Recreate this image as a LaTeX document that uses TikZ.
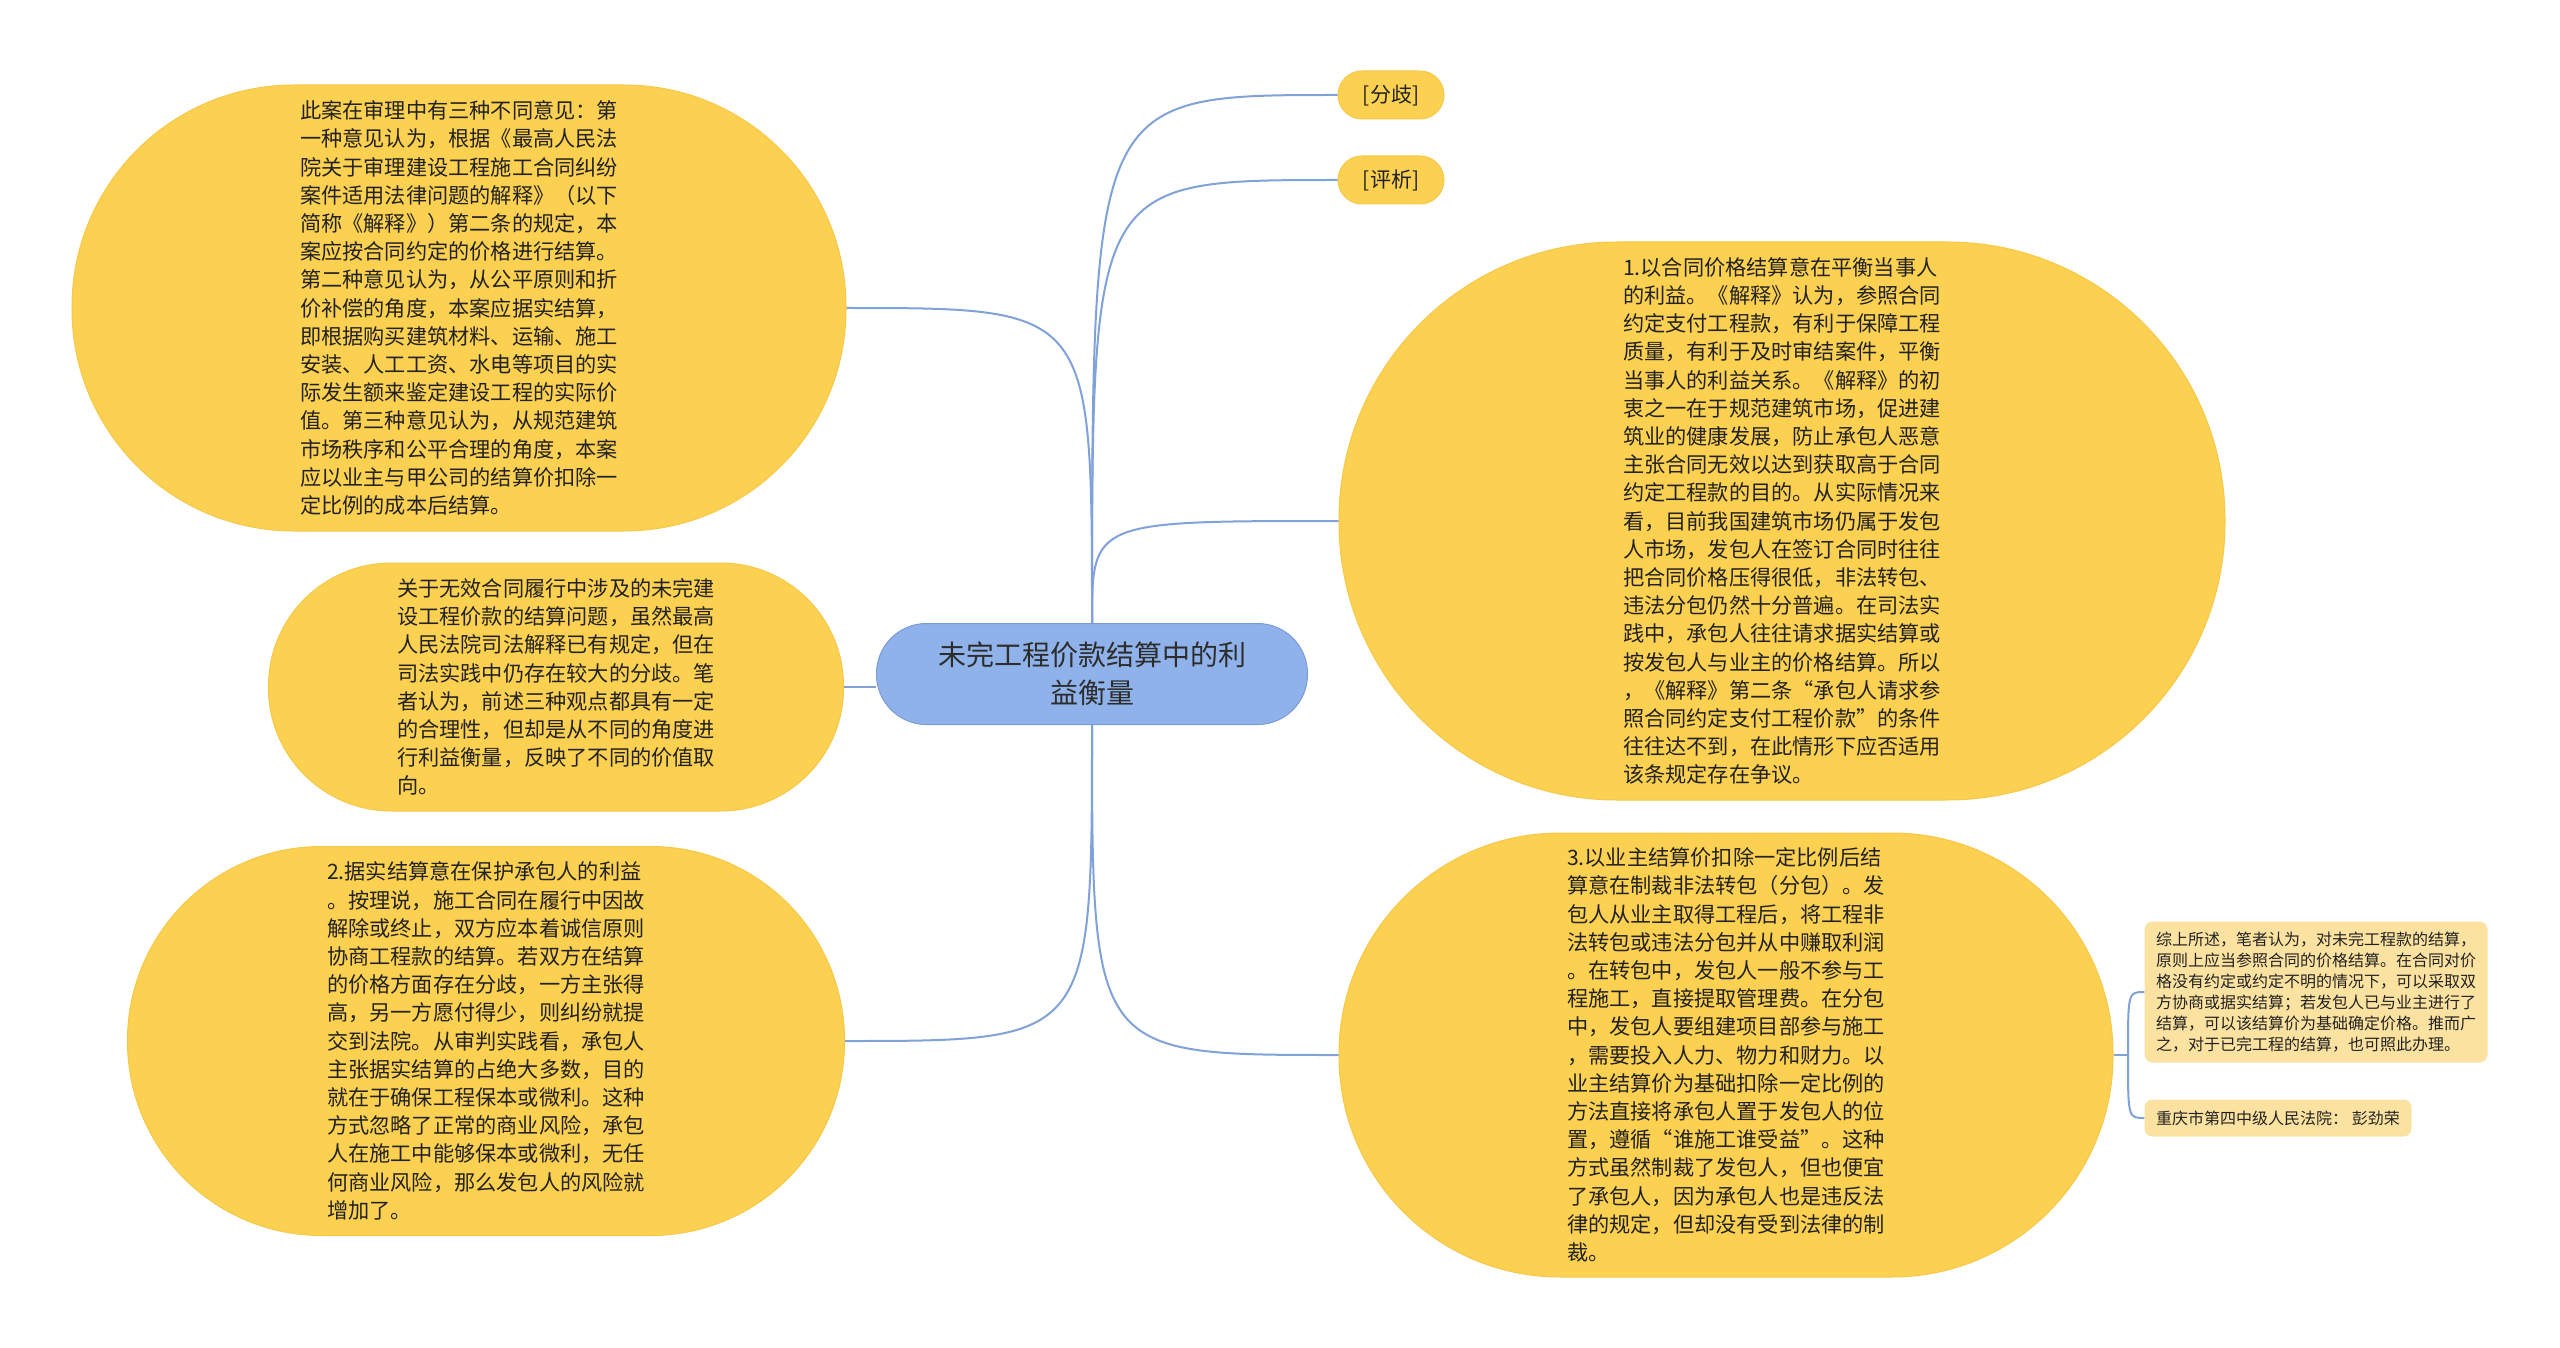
\documentclass[tikz,border=0pt]{standalone}
\usepackage{fontspec}
\newfontfamily\cjk{Noto Sans CJK SC}
\definecolor{ylw}{RGB}{252,208,80}
\definecolor{ybord}{RGB}{246,200,72}
\definecolor{pale}{RGB}{251,226,160}
\definecolor{ctrfill}{RGB}{143,178,234}
\definecolor{ctrbord}{RGB}{122,155,214}
\definecolor{link}{RGB}{128,162,216}
\definecolor{txt}{RGB}{34,34,34}
\tikzset{
  bigbox/.style={draw=ybord, fill=ylw, line width=1pt, inner sep=0pt, align=left, text=txt,
    font=\cjk\fontsize{21.2}{28.2}\selectfont},
  tagbox/.style={draw=ybord, fill=ylw, line width=1pt, inner sep=0pt, align=center, text=txt,
    font=\cjk\fontsize{21}{26}\selectfont, minimum width=106pt, minimum height=48pt, rounded corners=24pt},
  palebox/.style={fill=pale, inner sep=0pt, align=left, text=txt, rounded corners=8pt,
    font=\cjk\fontsize{16}{20.9}\selectfont},
  ctrbox/.style={draw=ctrbord, fill=ctrfill, line width=1pt, inner sep=0pt, align=center, text={rgb,255:red,45;green,45;blue,45},
    font=\cjk\fontsize{28}{38}\selectfont, minimum width=431pt, minimum height=101pt, rounded corners=50pt},
  conn/.style={draw=link, line width=2pt}
}
\begin{document}
\begin{tikzpicture}[x=1pt,y=-1pt]
\path[fill=white, use as bounding box] (0,0) rectangle (2560,1348);

% center
\node[ctrbox] (c) at (1092,674) {未完工程价款结算中的利\\益衡量};

% tags
\node[tagbox] (f1) at (1391,95) {[分歧]};
\node[tagbox] (f2) at (1391,180) {[评析]};

% top-left
\node[bigbox, minimum width=774pt, minimum height=446pt, rounded corners=222pt] (tl) at (459,308) {%
此案在审理中有三种不同意见：第\\
一种意见认为，根据《最高人民法\\
院关于审理建设工程施工合同纠纷\\
案件适用法律问题的解释》（以下\\
简称《解释》）第二条的规定，本\\
案应按合同约定的价格进行结算。\\
第二种意见认为，从公平原则和折\\
价补偿的角度，本案应据实结算，\\
即根据购买建筑材料、运输、施工\\
安装、人工工资、水电等项目的实\\
际发生额来鉴定建设工程的实际价\\
值。第三种意见认为，从规范建筑\\
市场秩序和公平合理的角度，本案\\
应以业主与甲公司的结算价扣除一\\
定比例的成本后结算。};

% middle-left
\node[bigbox, minimum width=575pt, minimum height=248pt, rounded corners=123pt] (ml) at (556,687) {%
关于无效合同履行中涉及的未完建\\
设工程价款的结算问题，虽然最高\\
人民法院司法解释已有规定，但在\\
司法实践中仍存在较大的分歧。笔\\
者认为，前述三种观点都具有一定\\
的合理性，但却是从不同的角度进\\
行利益衡量，反映了不同的价值取\\
向。};

% bottom-left
\node[bigbox, minimum width=717pt, minimum height=389pt, rounded corners=194pt] (bl) at (486,1041) {%
2.据实结算意在保护承包人的利益\\
。按理说，施工合同在履行中因故\\
解除或终止，双方应本着诚信原则\\
协商工程款的结算。若双方在结算\\
的价格方面存在分歧，一方主张得\\
高，另一方愿付得少，则纠纷就提\\
交到法院。从审判实践看，承包人\\
主张据实结算的占绝大多数，目的\\
就在于确保工程保本或微利。这种\\
方式忽略了正常的商业风险，承包\\
人在施工中能够保本或微利，无任\\
何商业风险，那么发包人的风险就\\
增加了。};

% right 1
\node[bigbox, minimum width=886pt, minimum height=558pt, rounded corners=278pt] (r1) at (1782,521) {%
1.以合同价格结算意在平衡当事人\\
的利益。《解释》认为，参照合同\\
约定支付工程款，有利于保障工程\\
质量，有利于及时审结案件，平衡\\
当事人的利益关系。《解释》的初\\
衷之一在于规范建筑市场，促进建\\
筑业的健康发展，防止承包人恶意\\
主张合同无效以达到获取高于合同\\
约定工程款的目的。从实际情况来\\
看，目前我国建筑市场仍属于发包\\
人市场，发包人在签订合同时往往\\
把合同价格压得很低，非法转包、\\
违法分包仍然十分普遍。在司法实\\
践中，承包人往往请求据实结算或\\
按发包人与业主的价格结算。所以\\
，《解释》第二条“承包人请求参\\
照合同约定支付工程价款”的条件\\
往往达不到，在此情形下应否适用\\
该条规定存在争议。};

% right 3
\node[bigbox, minimum width=774pt, minimum height=444pt, rounded corners=221pt] (r3) at (1726,1055) {%
3.以业主结算价扣除一定比例后结\\
算意在制裁非法转包（分包）。发\\
包人从业主取得工程后，将工程非\\
法转包或违法分包并从中赚取利润\\
。在转包中，发包人一般不参与工\\
程施工，直接提取管理费。在分包\\
中，发包人要组建项目部参与施工\\
，需要投入人力、物力和财力。以\\
业主结算价为基础扣除一定比例的\\
方法直接将承包人置于发包人的位\\
置，遵循“谁施工谁受益”。这种\\
方式虽然制裁了发包人，但也便宜\\
了承包人，因为承包人也是违反法\\
律的规定，但却没有受到法律的制\\
裁。};

% small boxes
\node[palebox, minimum width=343pt, minimum height=141pt] (s1) at (2316,992) {%
综上所述，笔者认为，对未完工程款的结算，\\
原则上应当参照合同的价格结算。在合同对价\\
格没有约定或约定不明的情况下，可以采取双\\
方协商或据实结算；若发包人已与业主进行了\\
结算，可以该结算价为基础确定价格。推而广\\
之，对于已完工程的结算，也可照此办理。};
\node[palebox, minimum width=267pt, minimum height=37pt] (s2) at (2278,1118) {重庆市第四中级人民法院：\ 彭劲荣};

% connectors
\draw[conn] (c.north) .. controls (c.north |- f1.west) .. (f1.west);
\draw[conn] (c.north) .. controls (c.north |- f2.west) .. (f2.west);
\draw[conn] (c.north) .. controls (c.north |- r1.west) .. (r1.west);
\draw[conn] (c.north) .. controls (c.north |- tl.east) .. (tl.east);
\draw[conn] (c.south) .. controls (c.south |- bl.east) .. (bl.east);
\draw[conn] (c.south) .. controls (c.south |- r3.west) .. (r3.west);
\draw[conn] (ml.east) -- (ml.east -| c.west);
\coordinate (j) at (2128,1055);
\draw[conn] (r3.east) -- (j);
\draw[conn] (j) .. controls (j |- s1.west) .. (s1.west);
\draw[conn] (j) .. controls (j |- s2.west) .. (s2.west);
\end{tikzpicture}
\end{document}
